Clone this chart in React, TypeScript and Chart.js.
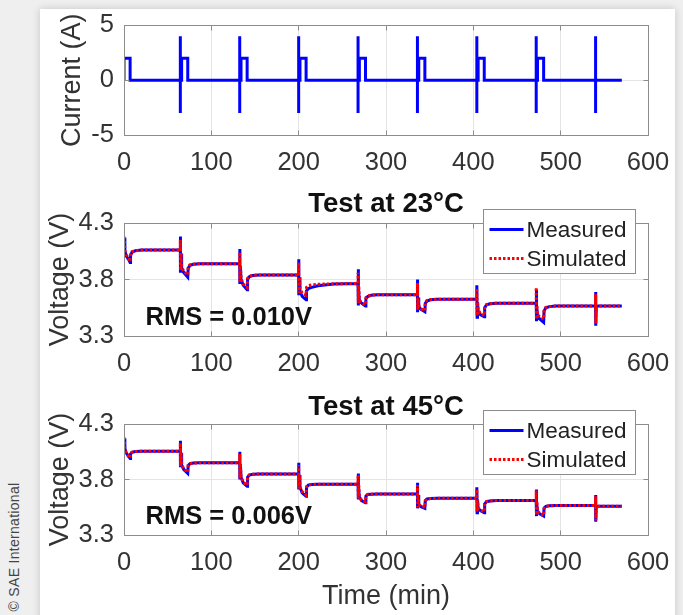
import React, { useEffect, useRef } from 'react';
import { Chart, registerables } from 'chart.js';
Chart.register(...registerables);

// ---------- data ----------
const xTicks = [0, 100, 200, 300, 400, 500, 600];
const currentTicks = [-5, 0, 5];
const voltageTicks = [3.3, 3.8, 4.3];

const currentTime = [
  0, 0, 7, 7,
  64.5, 64.5, 64.5, 64.5, 66, 66, 73, 73,
  132.5, 132.5, 132.5, 132.5, 134, 134, 141, 141,
  200, 200, 200, 200, 201.5, 201.5, 208.5, 208.5,
  268, 268, 268, 268, 269.5, 269.5, 276.5, 276.5,
  336, 336, 336, 336, 337.5, 337.5, 344.5, 344.5,
  404, 404, 404, 404, 405.5, 405.5, 412.5, 412.5,
  472, 472, 472, 472, 473.5, 473.5, 480.5, 480.5,
  540, 540, 540, 540, 570,
];
const currentValue = [
  0, 2, 2, 0,
  0, 4, -3, 0, 0, 2, 2, 0,
  0, 4, -3, 0, 0, 2, 2, 0,
  0, 4, -3, 0, 0, 2, 2, 0,
  0, 4, -3, 0, 0, 2, 2, 0,
  0, 4, -3, 0, 0, 2, 2, 0,
  0, 4, -3, 0, 0, 2, 2, 0,
  0, 4, -3, 0, 0, 2, 2, 0,
  0, 4, -3, 0, 0,
];

const voltTime = [
  0, 1, 2.5, 5, 7, 7.5, 9, 13, 20,
  64.5, 64.5, 64.8, 65.3, 66, 68.5, 73, 73.5, 75.5, 79.5, 86.5, 104.5,
  132.5, 132.5, 132.8, 133.3, 134, 136.5, 141, 141.5, 143.5, 147.5, 154.5, 172.5,
  200, 200, 200.3, 200.8, 201.5, 204, 208.5, 209, 211, 215, 222, 240,
  268, 268, 268.3, 268.8, 269.5, 272, 276.5, 277, 279, 283, 290, 308,
  336, 336, 336.3, 336.8, 337.5, 340, 344.5, 345, 347, 351, 358, 376,
  404, 404, 404.3, 404.8, 405.5, 408, 412.5, 413, 415, 419, 426, 444,
  472, 472, 472.3, 472.8, 473.5, 476, 480.5, 481, 483, 487, 494, 512,
  540, 540, 540.3, 540.8, 543, 570,
];

const measured23 = [
  4.17, 4.05, 4.01, 3.98, 3.95, 4.01, 4.04, 4.055, 4.06,
  4.06, 4.18, 3.86, 4.03, 3.90, 3.86, 3.82, 3.90, 3.925, 3.935, 3.94, 3.94,
  3.94, 4.07, 3.76, 3.92, 3.80, 3.75, 3.71, 3.80, 3.825, 3.835, 3.84, 3.84,
  3.84, 3.98, 3.66, 3.82, 3.70, 3.65, 3.62, 3.70, 3.72, 3.73, 3.745, 3.76,
  3.765, 3.89, 3.57, 3.74, 3.61, 3.59, 3.565, 3.63, 3.65, 3.66, 3.665, 3.665,
  3.665, 3.80, 3.51, 3.64, 3.56, 3.535, 3.515, 3.59, 3.61, 3.62, 3.625, 3.625,
  3.625, 3.75, 3.465, 3.60, 3.52, 3.49, 3.47, 3.55, 3.575, 3.585, 3.59, 3.59,
  3.59, 3.71, 3.43, 3.57, 3.48, 3.45, 3.42, 3.52, 3.55, 3.56, 3.565, 3.565,
  3.565, 3.69, 3.39, 3.56, 3.565, 3.565,
];
const simulated23 = [
  4.18, 4.06, 4.02, 3.99, 3.96, 4.02, 4.045, 4.055, 4.06,
  4.06, 4.15, 3.88, 4.03, 3.91, 3.87, 3.84, 3.91, 3.93, 3.937, 3.94, 3.94,
  3.94, 4.04, 3.78, 3.92, 3.81, 3.76, 3.73, 3.81, 3.83, 3.837, 3.84, 3.84,
  3.84, 3.95, 3.68, 3.82, 3.72, 3.68, 3.66, 3.73, 3.745, 3.752, 3.757, 3.762,
  3.765, 3.86, 3.59, 3.74, 3.62, 3.595, 3.575, 3.64, 3.655, 3.662, 3.665, 3.665,
  3.665, 3.77, 3.53, 3.64, 3.57, 3.54, 3.525, 3.60, 3.615, 3.622, 3.625, 3.625,
  3.625, 3.72, 3.48, 3.60, 3.53, 3.50, 3.48, 3.56, 3.578, 3.586, 3.59, 3.59,
  3.59, 3.73, 3.45, 3.57, 3.49, 3.47, 3.45, 3.53, 3.553, 3.56, 3.565, 3.565,
  3.565, 3.67, 3.41, 3.56, 3.565, 3.565,
];
const measured45 = [
  4.17, 4.08, 4.04, 4.01, 3.99, 4.03, 4.045, 4.052, 4.055,
  4.055, 4.15, 3.91, 4.04, 3.93, 3.89, 3.855, 3.925, 3.942, 3.948, 3.95, 3.95,
  3.95, 4.05, 3.80, 3.94, 3.82, 3.77, 3.74, 3.82, 3.84, 3.847, 3.85, 3.85,
  3.85, 3.95, 3.71, 3.84, 3.73, 3.68, 3.65, 3.73, 3.75, 3.755, 3.757, 3.757,
  3.757, 3.855, 3.62, 3.75, 3.64, 3.61, 3.59, 3.65, 3.665, 3.668, 3.67, 3.67,
  3.67, 3.77, 3.54, 3.66, 3.575, 3.555, 3.54, 3.61, 3.625, 3.628, 3.63, 3.63,
  3.63, 3.73, 3.50, 3.62, 3.54, 3.52, 3.50, 3.58, 3.60, 3.607, 3.61, 3.61,
  3.61, 3.71, 3.47, 3.60, 3.51, 3.49, 3.47, 3.54, 3.558, 3.563, 3.565, 3.565,
  3.565, 3.66, 3.42, 3.56, 3.56, 3.56,
];
const simulated45 = [
  4.18, 4.08, 4.04, 4.01, 3.995, 4.03, 4.045, 4.052, 4.055,
  4.055, 4.13, 3.92, 4.04, 3.935, 3.895, 3.865, 3.93, 3.944, 3.948, 3.95, 3.95,
  3.95, 4.03, 3.81, 3.94, 3.825, 3.775, 3.75, 3.825, 3.842, 3.847, 3.85, 3.85,
  3.85, 3.93, 3.72, 3.84, 3.735, 3.69, 3.66, 3.735, 3.752, 3.755, 3.757, 3.757,
  3.757, 3.84, 3.63, 3.75, 3.645, 3.615, 3.60, 3.655, 3.666, 3.668, 3.67, 3.67,
  3.67, 3.75, 3.55, 3.66, 3.58, 3.56, 3.55, 3.61, 3.625, 3.628, 3.63, 3.63,
  3.63, 3.71, 3.51, 3.62, 3.545, 3.525, 3.51, 3.58, 3.60, 3.607, 3.61, 3.61,
  3.61, 3.70, 3.48, 3.60, 3.515, 3.495, 3.475, 3.54, 3.558, 3.563, 3.565, 3.565,
  3.565, 3.65, 3.43, 3.56, 3.56, 3.56,
];

const seriesLabels = ['Measured', 'Simulated'];
const title23 = 'Test at 23\u00B0C';
const title45 = 'Test at 45\u00B0C';
const rms23 = 'RMS = 0.010V';
const rms45 = 'RMS = 0.006V';

// ---------- styles ----------
const FONT = "'Liberation Sans', Arial, Helvetica, sans-serif";
const BLUE = '#0000ff';
const RED = '#ff0000';
const FRAME = '#8c8c8c';
const GRID = '#e4e4e4';
const TEXT = '#333333';

const toXY = (ts: number[], vs: number[]) => ts.map((t, i) => ({ x: t, y: vs[i] }));

const extrasPlugin = {
  id: 'extras',
  afterDatasetsDraw(chart: any, _args: any, opts: any) {
    const { ctx } = chart;
    const xs = chart.scales.x;
    const ys = chart.scales.y;
    const L = Math.round(xs.getPixelForValue(xs.min) - 0.5) + 0.5;
    const R = Math.round(xs.getPixelForValue(xs.max) - 0.5) + 0.5;
    const T = Math.round(ys.getPixelForValue(ys.max) - 0.5) + 0.5;
    const B = Math.round(ys.getPixelForValue(ys.min) - 0.5) + 0.5;
    ctx.save();
    ctx.strokeStyle = FRAME;
    ctx.lineWidth = 1;
    ctx.setLineDash([]);
    ctx.beginPath();
    xs.ticks.forEach((t: any) => {
      const p = Math.round(xs.getPixelForValue(t.value) - 0.5) + 0.5;
      ctx.moveTo(p, B); ctx.lineTo(p, B - 5);
      ctx.moveTo(p, T); ctx.lineTo(p, T + 5);
    });
    ys.ticks.forEach((t: any) => {
      const p = Math.round(ys.getPixelForValue(t.value) - 0.5) + 0.5;
      ctx.moveTo(L, p); ctx.lineTo(L + 5, p);
      ctx.moveTo(R, p); ctx.lineTo(R - 5, p);
    });
    ctx.stroke();
    ctx.strokeRect(L, T, R - L, B - T);

    if (opts && opts.rms) {
      ctx.fillStyle = '#111';
      ctx.font = `bold 25.5px ${FONT}`;
      ctx.textBaseline = 'middle';
      ctx.textAlign = 'left';
      ctx.fillText(opts.rms, L + 21, B - 19);
    }
    if (opts && opts.legend) {
      const bx = R - 165;
      const by = T - 14;
      const bw = 152;
      const bh = 64;
      ctx.fillStyle = '#ffffff';
      ctx.fillRect(bx, by, bw, bh);
      ctx.strokeStyle = FRAME;
      ctx.strokeRect(bx, by, bw, bh);
      chart.data.datasets.forEach((ds: any, i: number) => {
        const y = by + 20 + i * 29;
        ctx.save();
        ctx.strokeStyle = ds.borderColor;
        ctx.lineWidth = ds.borderWidth;
        ctx.setLineDash(ds.borderDash || []);
        ctx.beginPath();
        ctx.moveTo(bx + 6, y);
        ctx.lineTo(bx + 40, y);
        ctx.stroke();
        ctx.restore();
        ctx.fillStyle = '#222';
        ctx.font = `22.5px ${FONT}`;
        ctx.textBaseline = 'middle';
        ctx.textAlign = 'left';
        ctx.fillText(ds.label, bx + 43, y + 1);
      });
    }
    ctx.restore();
  },
};

function makeConfig(p: {
  datasets: any[];
  yTicks: number[];
  yTitle: string;
  yTitleOffset: number;
  decimals: number;
  title?: string;
  xTitle?: string;
  xHeight: number;
  padTop: number;
  titlePadBottom?: number;
  rms?: string;
  legend?: boolean;
}) {
  return {
    type: 'line',
    data: { datasets: p.datasets },
    plugins: [extrasPlugin],
    options: {
      animation: false,
      responsive: false,
      events: [],
      layout: { padding: { top: p.padTop, right: 35, left: 0, bottom: 0 } },
      plugins: {
        legend: { display: false },
        tooltip: { enabled: false },
        title: p.title
          ? {
              display: true,
              text: p.title,
              fullSize: false,
              color: '#111',
              font: { family: FONT, size: 27.5, weight: 'bold' },
              padding: { top: 0, bottom: p.titlePadBottom ?? 2 },
            }
          : { display: false },
        extras: { rms: p.rms, legend: p.legend },
      },
      scales: {
        x: {
          type: 'linear',
          min: 0,
          max: 600,
          afterBuildTicks: (s: any) => {
            s.ticks = xTicks.map((v) => ({ value: v }));
          },
          afterFit: (s: any) => {
            s.height = p.xHeight;
          },
          grid: { color: GRID, drawTicks: false, lineWidth: 1 },
          border: { display: false },
          ticks: {
            autoSkip: false,
            maxRotation: 0,
            padding: 13,
            color: TEXT,
            font: { family: FONT, size: 25.5 },
            callback: (v: any) => String(v),
          },
          title: p.xTitle
            ? {
                display: true,
                text: p.xTitle,
                color: TEXT,
                font: { family: FONT, size: 27 },
                padding: { top: 0, bottom: 2 },
              }
            : { display: false },
        },
        y: {
          type: 'linear',
          min: p.yTicks[0],
          max: p.yTicks[p.yTicks.length - 1],
          afterBuildTicks: (s: any) => {
            s.ticks = p.yTicks.map((v) => ({ value: v }));
          },
          afterFit: (s: any) => {
            s.width = 124;
          },
          grid: { color: GRID, drawTicks: false, lineWidth: 1 },
          border: { display: false },
          ticks: {
            padding: 10,
            color: TEXT,
            font: { family: FONT, size: 25.5 },
            callback: (v: any) => Number(v).toFixed(p.decimals),
          },
          title: {
            display: true,
            text: p.yTitle,
            color: TEXT,
            font: { family: FONT, size: 27 },
            padding: { top: p.yTitleOffset, bottom: 0 },
          },
        },
      },
    },
  } as any;
}

const lineBase = { pointRadius: 0, tension: 0, fill: false };

function voltageSets(meas: number[], sim: number[]) {
  return [
    { ...lineBase, label: seriesLabels[0], data: toXY(voltTime, meas), borderColor: BLUE, borderWidth: 3, order: 1 },
    { ...lineBase, label: seriesLabels[1], data: toXY(voltTime, sim), borderColor: RED, borderWidth: 3, borderDash: [2.5, 2], order: 0 },
  ];
}

export default function App() {
  const c1 = useRef<HTMLCanvasElement>(null);
  const c2 = useRef<HTMLCanvasElement>(null);
  const c3 = useRef<HTMLCanvasElement>(null);

  useEffect(() => {
    const charts: Chart[] = [];
    if (c1.current) {
      charts.push(
        new Chart(
          c1.current,
          makeConfig({
            datasets: [
              { ...lineBase, label: 'Current', data: toXY(currentTime, currentValue), borderColor: BLUE, borderWidth: 3 },
            ],
            yTicks: currentTicks,
            yTitle: 'Current (A)',
            yTitleOffset: 56,
            decimals: 0,
            xHeight: 55,
            padTop: 25,
          })
        )
      );
    }
    if (c2.current) {
      charts.push(
        new Chart(
          c2.current,
          makeConfig({
            datasets: voltageSets(measured23, simulated23),
            yTicks: voltageTicks,
            yTitle: 'Voltage (V)',
            yTitleOffset: 44,
            decimals: 1,
            title: title23,
            xHeight: 55,
            padTop: 0,
            titlePadBottom: 2,
            rms: rms23,
            legend: true,
          })
        )
      );
    }
    if (c3.current) {
      charts.push(
        new Chart(
          c3.current,
          makeConfig({
            datasets: voltageSets(measured45, simulated45),
            yTicks: voltageTicks,
            yTitle: 'Voltage (V)',
            yTitleOffset: 44,
            decimals: 1,
            title: title45,
            xTitle: 'Time (min)',
            xHeight: 80,
            padTop: 0,
            titlePadBottom: 0,
            rms: rms45,
            legend: true,
          })
        )
      );
    }
    return () => charts.forEach((c) => c.destroy());
  }, []);

  return (
    <div
      style={{
        position: 'fixed',
        left: 0,
        top: 0,
        width: 683,
        height: 615,
        background: '#efefef',
        overflow: 'hidden',
      }}
    >
      <div
        style={{
          position: 'absolute',
          left: 40,
          top: 9,
          width: 635,
          height: 640,
          background: '#ffffff',
          boxShadow: '0 0 8px rgba(0,0,0,0.18)',
        }}
      />
      <div
        style={{
          position: 'absolute',
          left: 14,
          top: 547,
          transform: 'translate(-50%, -50%) rotate(-90deg)',
          whiteSpace: 'nowrap',
          fontFamily: FONT,
          fontSize: 14,
          color: '#444',
          letterSpacing: 0.3,
        }}
      >
        © SAE International
      </div>
      <canvas ref={c1} width={683} height={190} style={{ position: 'absolute', left: 0, top: 0 }} />
      <canvas ref={c2} width={683} height={203} style={{ position: 'absolute', left: 0, top: 188 }} />
      <canvas ref={c3} width={683} height={224} style={{ position: 'absolute', left: 0, top: 391 }} />
    </div>
  );
}
